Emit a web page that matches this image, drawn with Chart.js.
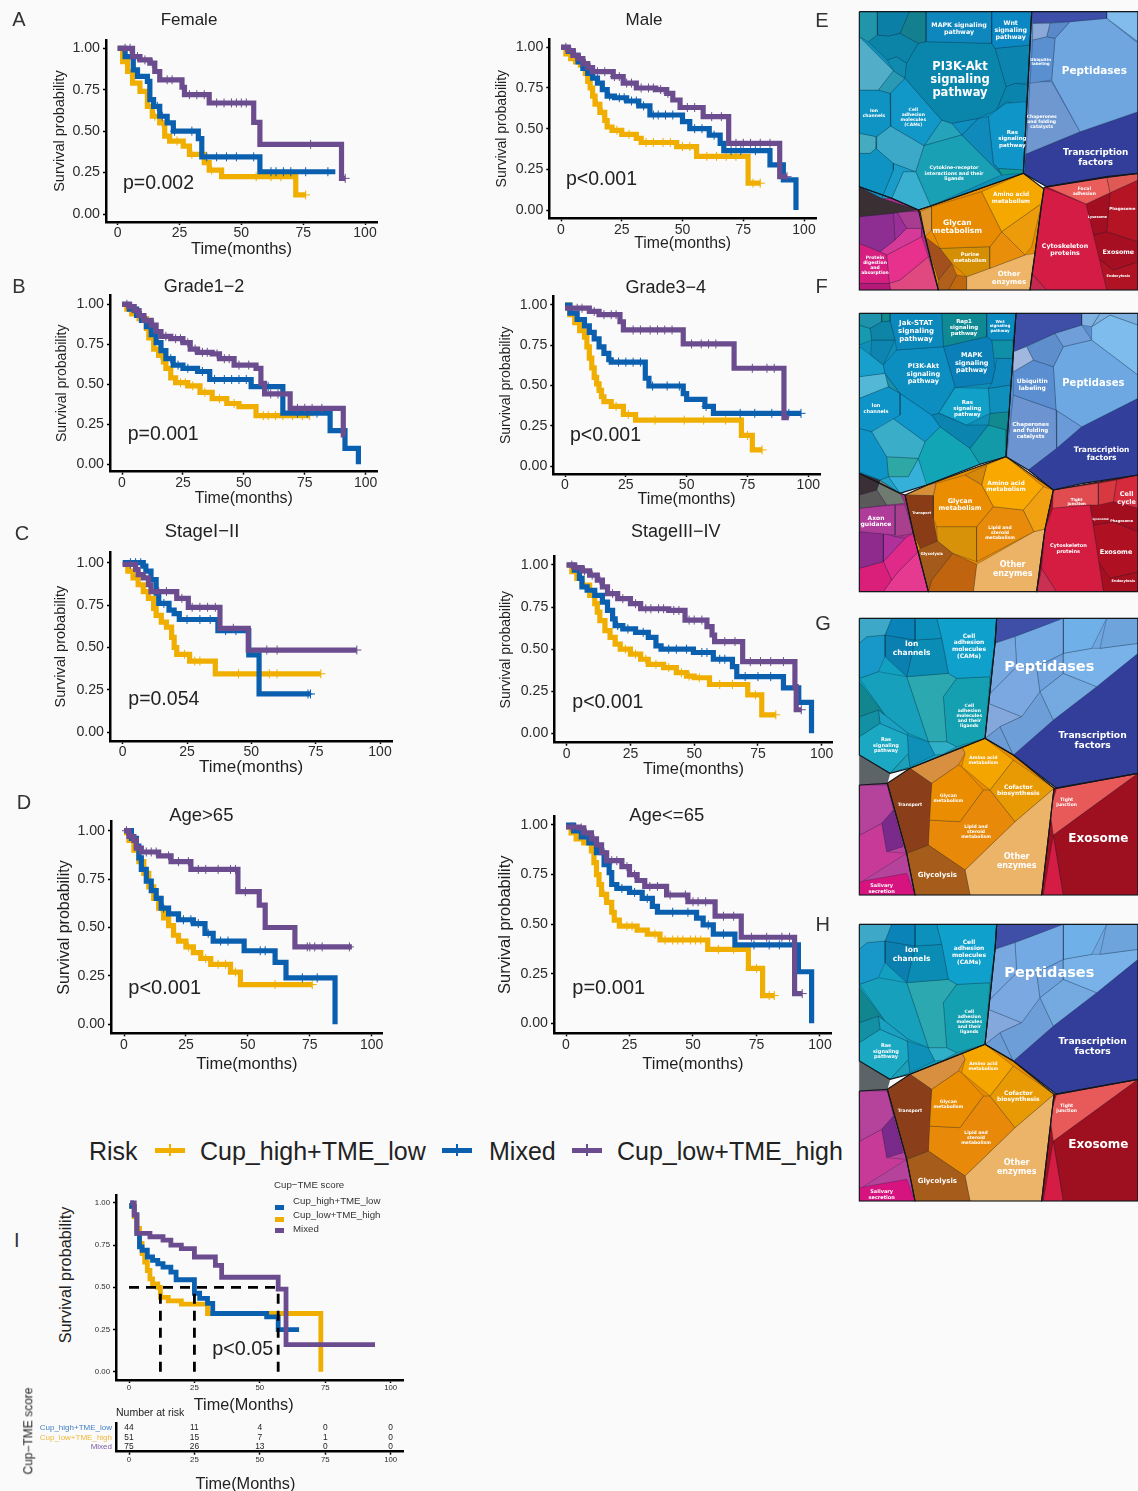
<!DOCTYPE html>
<html>
<head>
<meta charset="utf-8">
<title>Survival curves and proteomaps</title>
<script src="https://cdn.jsdelivr.net/npm/chart.js@4"></script>
<style>
html, body { margin: 0; padding: 0; background: #fafafa; }
#page { position: relative; width: 1138px; height: 1491px; overflow: hidden; background: #fafafa; filter: blur(0.45px); }
#page canvas { position: absolute; }
.txt { position: absolute; white-space: pre; text-align: center; line-height: 1.12; font-family: "Liberation Sans", Arial, sans-serif; color: #222; }
.mapTxt { font-family: "DejaVu Sans", sans-serif; font-weight: bold; color: #fff; }
</style>
</head>
<body>
<div id="page"></div>
<script>
// Survival curves: T = months at each step, S = survival after the step, C = censor marks
const femaleLowT = [0, 6, 9, 13, 15, 17, 23, 26, 27, 37, 55, 57.5, 90.5, 92];
const femaleLowS = [1, .95, .93, .91, .86, .81, .81, .765, .72, .67, .553, .42, .215, .215];
const femaleLowC = [3, 5, 8, 11, 14, 20, 22, 29, 32, 35, 40, 43, 46, 48, 50, 52, 78, 92];
const femaleMixT = [0, 3, 6.3, 8, 12, 13, 14.5, 17, 20, 22.5, 32.6, 34, 57.5, 88];
const femaleMixS = [1, .95, .87, .83, .8, .69, .65, .59, .55, .5, .455, .345, .255, .255];
const femaleMixC = [16, 18, 23, 30, 36, 40, 44, 48, 55, 62, 64, 67, 70, 76, 85];
const femaleHighT = [0, 2, 4, 6, 9, 12, 14, 17, 19, 21, 26.5, 29, 35, 37, 42, 72, 76];
const femaleHighS = [1, .92, .86, .79, .74, .65, .59, .55, .47, .44, .41, .36, .31, .265, .225, .115, .115];
const femaleHighC = [15, 18, 24, 30, 38, 56, 62, 66, 76];

const maleLowT = [0, 3, 5, 7, 9, 11, 13, 16, 21.5, 25.6, 31, 39, 43.5, 46, 49, 58.5, 69, 90, 93];
const maleLowS = [1, .98, .95, .93, .9, .875, .85, .85, .82, .78, .75, .74, .717, .676, .63, .574, .41, .205, .205];
const maleLowC = [2, 4, 6, 8, 10, 12, 15, 18, 22, 24, 27, 29, 33, 36, 38, 41, 44, 52, 55, 62, 66, 72, 75, 78, 82, 86, 93];
const maleMixT = [0, 3, 5, 7, 9, 11, 13, 15, 17, 19, 22, 27, 32, 36.6, 50, 53, 61, 65.5, 67, 86, 91.5, 96.7];
const maleMixS = [1, .975, .95, .91, .87, .84, .81, .78, .74, .7, .69, .67, .64, .584, .543, .5, .46, .41, .365, .277, .185, 0];
const maleMixC = [20, 24, 26, 29, 31, 34, 38, 40, 43, 46, 55, 58, 63, 70, 74, 80];
const maleHighT = [0, 2, 4, 6, 8, 10, 11, 12, 13, 14, 16, 18, 19, 21, 25, 31, 33, 47.6, 55.8, 77, 82];
const maleHighS = [1, .96, .93, .91, .89, .84, .79, .75, .7, .65, .6, .55, .51, .49, .465, .44, .415, .39, .33, .165, .165];
const maleHighC = [15, 17, 23, 28, 35, 38, 42, 45, 50, 53, 60, 64, 68, 72, 79, 82];

const g12LowT = [0, 3, 5, 7, 9, 12, 14, 16, 20, 25, 28, 31, 37, 40, 46, 55, 57, 58.5, 69, 90.8, 91.5];
const g12LowS = [1, .985, .96, .93, .9, .87, .83, .8, .785, .76, .72, .7, .69, .66, .62, .6, .506, .44, .35, .183, .183];
const g12LowC = [2, 4, 6, 8, 10, 13, 18, 22, 24, 27, 30, 33, 35, 39, 42, 44, 48, 52, 61, 64, 72, 75, 78, 82];
const g12MixT = [0, 3, 6, 8, 10, 12, 14, 16, 18, 21, 25, 31, 36, 53, 66, 85.4, 91.5, 97];
const g12MixS = [1, .97, .93, .9, .86, .81, .76, .71, .66, .62, .6, .58, .53, .485, .32, .21, .1, 0];
const g12MixC = [20, 23, 27, 33, 38, 42, 45, 48, 51, 60, 72, 76, 80];
const g12HighT = [0, 2, 4, 7, 10, 11, 13, 15, 17, 18, 20, 22, 27, 32, 37, 43, 48, 55, 77];
const g12HighS = [1, .97, .94, .91, .85, .79, .72, .68, .64, .6, .54, .51, .49, .45, .41, .38, .36, .304, .304];
const g12HighC = [16, 24, 26, 29, 34, 40, 46, 58, 60, 63, 66, 70, 74, 77];

const g34LowT = [0, 10, 14, 22.6, 24, 48.6, 69.5, 90, 92];
const g34LowS = [.98, .96, .94, .896, .845, .758, .607, .3, .3];
const g34LowC = [5, 7, 12, 16, 19, 21, 28, 31, 35, 38, 41, 44, 52, 56, 59, 62, 77, 83, 86];
const g34MixT = [0, 2, 5, 8, 10, 12, 14, 16, 18, 19, 33, 34.5, 48.6, 50, 57.5, 61, 97];
const g34MixS = [1, .95, .91, .87, .83, .79, .74, .7, .66, .645, .545, .497, .45, .414, .37, .327, .327];
const g34MixC = [22, 25, 28, 31, 36, 42, 47, 58, 72, 78, 85, 92, 97];
const g34HighT = [0, 2, 4, 6, 8, 9, 10, 11, 12, 13, 14, 15, 16, 19, 24, 29, 72.5, 77, 81];
const g34HighS = [1, .94, .89, .84, .8, .74, .67, .61, .55, .51, .47, .43, .4, .37, .32, .285, .19, .1, .1];
const g34HighC = [21, 26, 37, 49, 57, 66, 75, 81];

const stage12LowT = [0, 5, 6, 8, 10, 11, 21, 25.5, 37.8, 48.8, 91];
const stage12LowS = [.99, .96, .93, .91, .87, .83, .79, .737, .613, .485, .485];
const stage12LowC = [3, 14, 17, 23, 27, 30, 33, 36, 43, 56, 60, 91];
const stage12MixT = [0, 8, 9, 11, 13, 14, 18, 20, 22, 37, 49, 53, 73];
const stage12MixS = [1, .98, .95, .9, .82, .76, .72, .7, .665, .6, .456, .226, .226];
const stage12MixC = [3, 5, 7, 16, 25, 30, 34, 40, 44, 72, 73];
const stage12HighT = [0, 2, 4, 6, 8, 10, 12, 13, 15, 17, 19, 20, 21, 26, 36, 77];
const stage12HighS = [.99, .95, .91, .87, .83, .79, .73, .69, .65, .62, .56, .5, .46, .42, .345, .345];
const stage12HighC = [24, 28, 30, 45, 57, 60, 77];

const stage34LowT = [0, 3, 6, 9, 12, 14, 16, 20, 25, 29, 40, 46.4, 55, 57, 58, 69, 89.5, 90, 92];
const stage34LowS = [1, .985, .965, .94, .91, .87, .83, .8, .77, .74, .73, .673, .634, .584, .545, .426, .277, .14, .14];
const stage34LowC = [2, 4, 7, 10, 13, 18, 22, 27, 31, 33, 36, 38, 42, 44, 48, 50, 53, 62, 66, 72, 76, 80, 85, 92];
const stage34MixT = [0, 3, 5, 6, 8, 11, 14, 16, 18, 19, 22, 27, 32, 35, 37, 49.7, 57.5, 65, 66.7, 85, 91, 96];
const stage34MixS = [1, .97, .92, .87, .85, .82, .78, .73, .68, .64, .62, .6, .57, .52, .5, .48, .44, .396, .337, .27, .184, 0];
const stage34MixC = [20, 24, 30, 40, 43, 47, 53, 55, 60, 62, 70, 75, 80];
const stage34HighT = [0, 2, 4, 6, 9, 11, 12, 13, 15, 17, 19, 21, 25, 29, 32, 38, 43, 47, 50, 56, 71, 76.5, 82];
const stage34HighS = [1, .96, .92, .88, .82, .77, .72, .67, .61, .57, .53, .5, .47, .44, .41, .39, .36, .34, .33, .29, .228, .11, .11];
const stage34HighC = [23, 27, 31, 35, 40, 45, 48, 52, 60, 65, 74, 82];

const ageOldLowT = [0, 2, 4, 5, 7, 14, 19, 27, 46, 54.6, 57, 69, 92];
const ageOldLowS = [1, .97, .95, .91, .89, .87, .84, .8, .685, .616, .5, .4, .4];
const ageOldLowC = [1, 3, 9, 11, 13, 18, 22, 26, 30, 33, 38, 43, 45, 49, 75, 74, 77, 80, 91];
const ageOldMixT = [0, 3, 5, 6, 7, 9, 11, 13, 15, 18, 22, 28, 32.7, 36, 48.5, 61, 65.4, 85.2];
const ageOldMixS = [1, .96, .92, .86, .8, .74, .69, .65, .6, .57, .54, .52, .47, .43, .38, .32, .24, 0];
const ageOldMixC = [16, 24, 27, 30, 34, 39, 42, 55, 57, 72, 78];
const ageOldHighT = [0, 2, 4, 6, 8, 10, 12, 14, 16, 18, 20, 22, 25, 28, 31, 35, 43, 47, 76];
const ageOldHighS = [.99, .95, .9, .84, .78, .71, .65, .6, .55, .51, .46, .43, .4, .37, .34, .31, .27, .205, .205];
const ageOldHighC = [15, 26, 33, 38, 41, 45, 61, 76];

const ageYoungLowT = [0, 5, 7, 10, 12, 14, 16, 22, 25, 28, 31, 39.6, 48, 58.7, 69, 90, 93];
const ageYoungLowS = [.99, .985, .96, .93, .9, .86, .82, .79, .75, .72, .69, .647, .613, .54, .434, .15, .15];
const ageYoungLowC = [2, 3, 6, 8, 11, 15, 18, 20, 24, 27, 33, 36, 41, 47, 50, 52, 55, 62, 66, 73, 79, 85, 88, 93];
const ageYoungMixT = [0, 3, 6, 9, 12, 15, 17, 18, 20, 25, 30, 34, 36, 51.4, 54, 58, 66.5, 91.5, 96.7];
const ageYoungMixS = [1, .97, .94, .91, .86, .8, .76, .7, .68, .66, .63, .59, .56, .53, .496, .45, .395, .26, 0];
const ageYoungMixC = [22, 27, 32, 42, 48, 56, 62, 74, 80, 84];
const ageYoungHighT = [0, 2, 4, 7, 10, 11, 12, 13, 14, 16, 18, 19, 21, 28, 32, 37, 55.8, 71.8, 77.4, 82];
const ageYoungHighS = [.99, .96, .93, .91, .87, .81, .75, .7, .65, .61, .56, .52, .49, .47, .45, .42, .373, .277, .14, .14];
const ageYoungHighC = [15, 24, 26, 35, 39, 42, 44, 46, 49, 51, 53, 60, 66, 75, 80, 82];

// Panel I (its own colour naming, see its legend)
const allHighT = [.5, 1, 2, 3, 4, 5, 7, 9, 11, 13, 16, 18, 25, 27, 30, 32, 52.6, 57, 65];
const allHighS = [1, .98, .93, .82, .74, .72, .68, .66, .64, .62, .59, .545, .465, .435, .405, .345, .325, .25, .25];
const allLowT = [0, 2, 3, 4, 5, 6, 7, 8, 9, 11, 12, 15, 20, 30, 73.3];
const allLowS = [.98, .92, .85, .76, .7, .65, .6, .55, .52, .5, .44, .42, .4, .345, 0];
const allMixedT = [.5, 2, 3, 8, 13, 16, 20, 25, 33, 35.4, 57, 60, 94];
const allMixedS = [1, .93, .82, .8, .78, .75, .73, .68, .63, .56, .49, .16, .16];
const medianTimes = [12, 25, 57];
const medianLevel = .5;
const riskTimes = [0, 25, 50, 75, 100];
const riskHigh = [44, 11, 4, 0, 0];
const riskLow = [51, 15, 7, 1, 0];
const riskMixed = [75, 26, 13, 0, 0];
const riskNames = ['Cup_high+TME_low', 'Cup_low+TME_high', 'Mixed'];

const xTicks = 25;
const yTicks = .25;

// Colours
const yellow = '#efae00';
const blue = '#0a5fae';
const purple = '#6b4d8f';
const ink = '#1f1f1f';

// Proteomap cells, vertices as x,y pairs at 3x
const mapECells = [
  [28,35,82,35,82,105,55,125,28,110], [82,35,178,35,150,100,115,108,82,105], [178,35,228,35,228,125,205,130,150,100],
  [228,35,425,35,425,130,228,125], [425,35,545,35,540,135,435,145,425,130],
  [205,130,228,125,425,130,435,145,468,260,440,330,385,355,305,370,275,360,165,235,170,190],
  [55,125,82,105,115,108,150,100,205,130,170,190,140,170,112,180], [112,180,140,170,170,190,165,235,130,212],
  [28,110,130,212,85,270,28,270], [130,212,165,235,120,280,85,270],
  [28,270,85,270,120,280,122,378,80,410,28,400], [120,280,165,235,275,360,222,437,122,378],
  [28,400,80,410,78,445,60,460,28,460], [80,410,122,378,222,437,197,515,130,490,78,445],
  [28,460,60,460,78,445,130,490,130,510,95,595,28,560], [130,490,197,515,160,515,125,595,95,595,130,510],
  [160,515,197,515,242,618,205,630,125,595], [222,437,335,405,455,525,242,618,197,515],
  [275,360,305,370,335,405,222,437], [305,370,385,355,335,405], [335,405,385,355,415,350,430,490,455,525],
  [415,350,440,330,468,310,528,305,525,510,445,505,430,490], [435,145,540,135,535,250,495,250,468,260],
  [468,260,495,250,535,255,530,320,470,305,440,330], [445,505,525,510,520,520,455,525],
  [545,35,770,35,770,55,660,65,548,70], [548,70,600,70,590,110,548,120], [600,70,660,65,615,115,590,110],
  [548,120,590,110,615,115,605,240,540,250], [660,65,770,55,864,130,864,335,690,395,605,240,615,115],
  [770,35,864,35,864,125,770,55], [540,245,605,245,690,395,528,462],
  [864,335,864,520,770,530,590,560,520,520,528,462,690,395],
  [520,520,582,567,575,610,455,695,395,575], [245,620,395,575,455,695,420,740,270,745,245,690],
  [210,635,245,620,245,690,225,710], [575,610,545,740,525,765,455,695], [455,695,525,765,420,805,420,740],
  [270,745,420,740,420,805,350,830,305,790], [350,830,525,765,555,760,545,820,540,870,350,870],
  [225,710,270,745,305,790,265,840], [265,840,305,790,320,825,295,870,265,870], [295,870,320,825,350,830,350,870,295,870],
  [28,560,95,595,205,630,130,640,28,650],
  [28,650,130,640,135,720,90,755,28,730], [130,640,140,635,170,685,135,720], [140,635,210,635,215,685,170,685],
  [28,730,90,755,110,765,118,850,28,850], [28,850,118,850,122,870,28,870], [135,720,170,685,215,685,215,710,110,765,90,755],
  [110,765,215,710,235,770,150,840,118,850], [150,840,235,770,265,870,122,870,118,850],
  [582,562,708,612,770,870,590,870,545,820,555,760,575,610], [545,820,590,870,540,870],
  [590,560,770,532,780,578,708,612], [770,532,864,520,864,540,780,578],
  [708,612,780,578,770,695,730,705], [780,578,864,540,864,725,770,695], [730,705,770,695,864,725,864,785,790,810,745,775],
  [790,810,864,785,864,870,770,870,745,775], [730,705,745,775,770,870]
];
const mapEColors = [
  '#2196ab', '#0b7fa6', '#14808f', '#0d87bd', '#0b88c3', '#0a86ad', '#0c84a8', '#118ab0',
  '#52adc9', '#2a9ab4', '#0f93c2', '#1298c8', '#45acbf', '#3ca9c9', '#0f93c2', '#1a9cc8',
  '#3ab0d0', '#1aa0b5', '#25a3bb', '#0f8fc0', '#1089bb', '#0f95c8', '#0b85b0', '#0b84ad', '#129a9a',
  '#3d4fa8', '#8ba9d8', '#5b88c8', '#5a8fd0', '#6fa6e0', '#82bcec', '#6f97d0', '#323e9a',
  '#f5a800', '#e88b00', '#d9963c', '#ec9c0a', '#e88e0a', '#d48f05', '#eeb468', '#a34f1e', '#b0601a', '#c0680f',
  '#3a2f33', '#8e2e92', '#9b2f98', '#a83c90', '#d61f7f', '#b51a78', '#d63a98', '#e8318c', '#e04880',
  '#d51c44', '#c42a50', '#ea5d5a', '#e05a55', '#a30f20', '#b51424', '#a60f22', '#b01324', '#a30f20'
];
const mapEGroups = [
  [28,35,545,35,520,520,242,618,205,630,125,595,28,560],
  [545,35,864,35,864,520,770,530,590,560,520,520],
  [205,630,242,618,520,520,582,567,575,610,555,760,540,870,265,870,225,710,210,635],
  [28,560,125,595,205,630,265,870,28,870],
  [582,562,770,532,864,520,864,870,540,870,555,760,575,610]
];
const mapEGroupColors = ['#0f8fb8', '#5a8ed0', '#e88b00', '#b0308c', '#a80f22'];

const mapFCells = [
  [28,25,95,25,95,50,60,70,28,60], [95,25,120,25,120,48,95,50], [28,60,60,70,65,105,28,120], [60,70,95,50,120,48,135,105,65,105],
  [65,105,135,105,100,180,62,150], [120,25,275,25,280,125,140,135,135,105,120,48], [275,25,410,25,410,95,280,125],
  [410,25,498,25,490,105,425,105,410,95], [140,135,280,125,315,245,265,325,245,330,150,265,105,205,100,180],
  [280,125,410,95,425,105,435,190,425,235,315,248], [425,105,490,105,490,160,440,160,430,160], [440,160,490,160,482,240,415,250,425,235,435,190],
  [28,125,62,150,100,180,105,205,28,215], [28,215,105,205,115,245,28,280], [105,205,150,265,115,245],
  [28,280,115,245,150,265,150,330,65,380,28,370], [150,265,245,330,270,365,225,410,122,335,150,330],
  [315,248,415,250,420,325,350,360,270,325,265,325], [415,250,482,240,478,320,420,325], [420,325,478,320,470,375,415,360],
  [245,330,265,325,350,360,415,360,360,430,270,365], [415,360,470,375,468,455,390,478,360,430],
  [65,380,122,335,225,410,205,460,110,455], [205,460,225,410,270,365,360,430,390,478,230,540],
  [28,370,65,380,110,455,115,515,90,525,28,500], [110,455,205,460,175,515,115,515], [90,525,115,515,150,565],
  [115,515,175,515,205,460,232,540,150,565],
  [28,505,90,525,80,555,28,570], [28,570,80,555,110,600,28,610], [80,555,90,525,150,565,165,595,110,600],
  [28,610,135,600,135,690,30,680], [135,600,165,600,190,685,135,695], [28,680,100,685,100,770,28,790], [100,685,135,695,165,700,100,770],
  [28,790,100,770,125,825,100,860,28,860], [100,770,165,700,190,685,205,740,145,800,125,825], [145,800,205,740,235,860,100,860,125,825],
  [165,570,250,572,250,640,262,708,210,730,190,685], [165,570,232,540,258,535,250,572],
  [210,730,262,708,308,745,245,825,235,860,205,740], [245,825,308,745,380,778,370,860,235,860],
  [250,572,258,535,345,510,395,540,430,605,380,665,260,665,250,640], [345,510,410,480,395,540],
  [410,480,468,455,580,545,520,615,430,605,395,540], [520,615,580,545,610,555,585,672,552,680],
  [430,605,520,615,552,680,380,770,380,665], [260,665,380,665,380,770,308,745,262,708],
  [380,778,552,680,585,672,560,860,370,860],
  [498,25,695,25,695,60,615,85,490,140], [695,25,750,25,725,65,695,60], [750,25,864,25,864,60,780,30,725,65],
  [725,65,780,30,864,60,864,210,725,105], [615,85,695,60,725,105,640,125], [490,140,530,125,550,165,490,200],
  [530,125,615,85,640,125,610,185,550,165], [490,200,550,165,610,185,618,315,490,270],
  [610,185,640,125,725,105,864,210,864,280,695,365,618,315], [490,270,618,315,620,430,535,495,470,455],
  [618,315,695,365,620,430], [695,365,864,280,864,510,700,535,610,555,535,495],
  [608,610,720,600,760,860,620,860,575,790,585,672], [610,555,745,535,745,600,720,600,608,610],
  [745,535,800,525,790,590,745,600], [800,525,864,510,864,610,790,590],
  [720,600,790,590,864,610,864,680,790,650,730,660], [730,660,790,650,864,680,864,800,780,820,745,770], [745,770,780,820,864,800,864,860,760,860],
  [575,790,620,860,560,860]
];
const mapFColors = [
  '#1f93ab', '#0f8c8c', '#169ab0', '#0e84a6', '#0d85b0', '#0b88bc', '#0f8a95', '#0b8ac0', '#0c8fc0', '#0b80b8', '#0f8fa8', '#0e88ba',
  '#18a0cc', '#52b8d6', '#1a90a8', '#0f94c8', '#0f97cc', '#10a0c8', '#0f8fbc', '#11898f', '#0b85b0', '#129aa8', '#3aaec8', '#12a5b5',
  '#0f94c8', '#2ea8a5', '#1ea3c8', '#35b0d8', '#3a2f35', '#5a5a5a', '#6f7a70',
  '#b03c9a', '#a8408e', '#8f2b8c', '#b0309c', '#d91f7a', '#e02a8a', '#e53a90', '#8a3c17', '#d89038', '#a35a1a', '#c0640f',
  '#ea8d00', '#d6880a', '#f8a800', '#f0a010', '#e88b0a', '#d8920a', '#ecb366',
  '#3f4ea6', '#7fb2e0', '#7db0de', '#7dbcec', '#6f9ed8', '#a0b8e0', '#5f8ecc', '#5a8ed0', '#6ea8e2', '#6c94d0', '#6a9ad8', '#32409c',
  '#d51d42', '#e04c50', '#d83840', '#d42a3c', '#a30e1e', '#b01122', '#a60f1f', '#c93052'
];
const mapFGroups = [
  [28,25,498,25,468,455,390,478,230,540,150,565,28,505],
  [498,25,864,25,864,510,700,535,610,555,535,495,468,455],
  [165,570,232,540,468,455,610,555,585,672,560,860,235,860,190,685],
  [28,505,150,565,165,570,190,685,235,860,28,860],
  [610,555,864,510,864,860,560,860,585,672]
];
const mapFGroupColors = ['#0f8fb8', '#5a8ed0', '#e88b00', '#a8308c', '#a80f22'];

const mapGCells = [
  [28,25,125,25,105,75,50,80,28,100], [28,100,50,80,105,75,105,140,85,185,28,205],
  [125,25,195,25,195,90,105,75], [195,25,260,25,275,85,195,90], [105,75,195,90,170,200,105,140], [195,90,275,85,295,190,170,200],
  [260,25,440,25,435,100,420,200,320,205,295,190,275,85],
  [28,205,85,185,170,200,235,395,175,370,105,315], [170,200,295,190,320,205,280,260,290,395,235,395],
  [320,205,420,200,405,385,320,410,290,395,280,260], [235,395,290,395,320,410,280,432,255,435],
  [28,215,105,315,85,300,28,320], [28,320,85,300,90,340,28,380], [85,300,105,315,175,370,172,375,90,340],
  [28,380,90,340,172,375,175,430,120,490,28,435], [172,375,235,395,255,435,180,470,175,430], [120,490,175,430,180,470],
  [28,435,120,490,112,520,28,525], [112,520,180,475,245,520,235,705,170,730],
  [170,730,235,705,345,780,360,855,195,855],
  [180,475,335,410,345,430,325,465,245,520], [335,410,405,385,490,450,420,540,335,470,345,430],
  [490,450,612,535,495,635,420,540], [245,520,325,465,335,470,400,540,330,635,235,630],
  [235,630,330,635,400,540,420,540,495,635,345,780,235,705],
  [345,780,495,635,612,535,575,855,360,855],
  [435,100,495,80,500,170,420,250], [495,80,640,25,640,130,560,170,500,170], [640,25,770,25,725,115,640,130],
  [770,25,864,25,864,100,750,115], [725,115,750,115,864,100,864,130,740,230,640,190,640,130], [560,170,640,130,640,190,570,245],
  [640,190,740,230,610,330,570,245], [420,250,500,170,560,170,570,245,515,320,415,280], [570,245,610,330,490,435,450,350,515,320],
  [415,280,515,320,450,350,405,385], [405,385,450,350,490,435],
  [440,25,650,25,435,100], [864,130,864,490,620,535,490,435,610,330],
  [620,535,864,490,610,675,600,600], [610,675,864,490,864,855,640,855], [610,675,640,855,580,855],
  [28,525,112,525,130,600,95,640,30,675], [28,675,95,640,110,725,170,730,35,815,28,815], [95,640,130,600,160,710,110,725],
  [28,815,170,790,195,855,28,855]
];
const mapGColors = [
  '#3ea8c8', '#1898c8', '#0a84b8', '#0c90bc', '#0b80b0', '#0a8cb4', '#10a0cc', '#16a0bc', '#2ba8b0', '#14a0b0', '#2fb0c8',
  '#12868f', '#1490a5', '#1aa0c0', '#1ba8c2', '#0f90b8', '#1ba0b8', '#5d6468', '#8a3f1a', '#a65c1a',
  '#d98f40', '#f5a500', '#e89a05', '#ea8d00', '#e8890a', '#ecb468',
  '#78a8e0', '#73aae4', '#70b0e8', '#6ea4dc', '#78b2e8', '#6fa2dc', '#74aae0', '#7ba8e0', '#6e9ed8', '#85a8dc', '#6c9cd6',
  '#3f4ea6', '#323e9a', '#e85a5a', '#9e0f1f', '#d51c44', '#b5439b', '#c73a98', '#7a2a8a', '#d6137e'
];
const mapGGroups = [
  [28,25,440,25,435,100,405,385,180,475,120,490,28,435],
  [440,25,864,25,864,490,620,535,490,435,405,385,435,100],
  [180,475,405,385,490,435,612,535,575,855,195,855,170,730,112,520],
  [28,525,112,520,170,730,195,855,28,855],
  [612,535,864,490,864,855,575,855]
];
const mapGGroupColors = ['#12a0c0', '#6fa5e0', '#e88b00', '#b5439b', '#9e0f1f'];

// Layout of the survival panels, all in page pixels
const panelBoxes = [
  { title: 'Female', letter: 'A', p: 'p=0.002', x0: 117.7, x100: 365, y1: 48.3, y0: 214, axL: 106, axB: 222, right: 377, top: 40, yCx: 60, xCy: 248.3, ySize: 14.5, xSize: 16.5, tSize: 17, tX: 189, tY: 20, pX: 123, pY: 182.7, pSize: 19.5, lX: 19, lY: 19,
    low: [femaleLowT, femaleLowS, femaleLowC], mix: [femaleMixT, femaleMixS, femaleMixC], high: [femaleHighT, femaleHighS, femaleHighC] },
  { title: 'Male', letter: 'E', p: 'p<0.001', x0: 561, x100: 804, y1: 47.3, y0: 210, axL: 549.3, axB: 218.3, right: 816, top: 39, yCx: 503.3, xCy: 243.3, ySize: 14, xSize: 15.8, tSize: 17, tX: 644, tY: 20, pX: 566, pY: 179, pSize: 19.5, lX: 822, lY: 20,
    low: [maleLowT, maleLowS, maleLowC], mix: [maleMixT, maleMixS, maleMixC], high: [maleHighT, maleHighS, maleHighC] },
  { title: 'Grade1\u22122', letter: 'B', p: 'p=0.001', x0: 122, x100: 365.7, y1: 304.3, y0: 464.3, axL: 110, axB: 471.7, right: 377.7, top: 295, yCx: 63.3, xCy: 497.7, ySize: 14, xSize: 16, tSize: 18, tX: 204, tY: 286, pX: 127.7, pY: 434, pSize: 19.5, lX: 19, lY: 286,
    low: [g12LowT, g12LowS, g12LowC], mix: [g12MixT, g12MixS, g12MixC], high: [g12HighT, g12HighS, g12HighC] },
  { title: 'Grade3\u22124', letter: 'F', p: 'p<0.001', x0: 565, x100: 808.3, y1: 305, y0: 466, axL: 553.3, axB: 474, right: 820, top: 296.7, yCx: 506.7, xCy: 499, ySize: 14, xSize: 16, tSize: 18, tX: 665.7, tY: 287, pX: 570, pY: 435, pSize: 19.5, lX: 821.7, lY: 286,
    low: [g34LowT, g34LowS, g34LowC], mix: [g34MixT, g34MixS, g34MixC], high: [g34HighT, g34HighS, g34HighC] },
  { title: 'StageI\u2212II', letter: 'C', p: 'p=0.054', x0: 122.7, x100: 380, y1: 562.7, y0: 732.3, axL: 110, axB: 741, right: 392.3, top: 552.3, yCx: 60.7, xCy: 767.3, ySize: 14.5, xSize: 17, tSize: 18.5, tX: 202, tY: 530.7, pX: 128.3, pY: 699.3, pSize: 19.5, lX: 22, lY: 532.7,
    low: [stage12LowT, stage12LowS, stage12LowC], mix: [stage12MixT, stage12MixS, stage12MixC], high: [stage12HighT, stage12HighS, stage12HighC] },
  { title: 'StageIII\u2212IV', letter: 'G', p: 'p<0.001', x0: 566.7, x100: 821.7, y1: 565, y0: 733.3, axL: 554.3, axB: 742.7, right: 832.7, top: 556.7, yCx: 506.7, xCy: 768.3, ySize: 14, xSize: 16.5, tSize: 18, tX: 675.7, tY: 530.7, pX: 572.3, pY: 701.7, pSize: 19.5, lX: 823, lY: 622.7,
    low: [stage34LowT, stage34LowS, stage34LowC], mix: [stage34MixT, stage34MixS, stage34MixC], high: [stage34HighT, stage34HighS, stage34HighC] },
  { title: 'Age>65', letter: 'D', p: 'p<0.001', x0: 124, x100: 371.7, y1: 830.7, y0: 1024.3, axL: 111, axB: 1033.3, right: 382.7, top: 821.7, yCx: 65, xCy: 1064, ySize: 16, xSize: 16.5, tSize: 18.5, tX: 201.3, tY: 815, pX: 128.3, pY: 986.7, pSize: 20, lX: 24, lY: 801.7,
    low: [ageOldLowT, ageOldLowS, ageOldLowC], mix: [ageOldMixT, ageOldMixS, ageOldMixC], high: [ageOldHighT, ageOldHighS, ageOldHighC] },
  { title: 'Age<=65', letter: 'H', p: 'p=0.001', x0: 566, x100: 820, y1: 825, y0: 1023.3, axL: 554, axB: 1033.3, right: 831.7, top: 816, yCx: 506, xCy: 1064, ySize: 16.5, xSize: 16.5, tSize: 18.5, tX: 666.7, tY: 815, pX: 572.3, pY: 986.7, pSize: 20, lX: 822.7, lY: 924.3,
    low: [ageYoungLowT, ageYoungLowS, ageYoungLowC], mix: [ageYoungMixT, ageYoungMixS, ageYoungMixC], high: [ageYoungHighT, ageYoungHighS, ageYoungHighC] }
];

// Map labels: text, x and y at 3x, font size
const mapELabels = [
  ['PI3K-Akt\nsignaling\npathway', 330, 237, 11.5], ['MAPK signaling\npathway', 327, 85, 6.3], ['Wnt\nsignaling\npathway', 482, 90, 6.3],
  ['Peptidases', 733, 212, 10.5], ['Transcription\nfactors', 737, 474, 8.8], ['Glycan\nmetabolism', 322, 680, 7.5],
  ['Cytoskeleton\nproteins', 645, 747, 6.3], ['Exosome', 805, 757, 6.3], ['Other\nenzymes', 477, 838, 7],
  ['Amino acid\nmetabolism', 483, 592, 5.8], ['Purine\nmetabolism', 360, 775, 5], ['Ras\nsignaling\npathway', 487, 415, 5.5],
  ['Cell\nadhesion\nmolecules\n(CAMs)', 190, 350, 4.5], ['Ion\nchannels', 72, 338, 4.5], ['Cytokine-receptor\ninteractions and their\nligands', 312, 520, 4.8],
  ['Chaperones\nand folding\ncatalysts', 575, 367, 4.5], ['Ubiquitin\nlabeling', 572, 185, 4], ['Focal\nadhesion', 703, 573, 4.5],
  ['Phagosome', 817, 628, 4], ['Lysosome', 742, 655, 3.5], ['Endocytosis', 805, 832, 3.5], ['Protein\ndigestion\nand\nabsorption', 75, 795, 4.5]
];
const mapFLabels = [
  ['Jak-STAT\nsignaling\npathway', 198, 82, 7], ['Rap1\nsignaling\npathway', 342, 65, 5.5], ['Wnt\nsignaling\npathway', 450, 65, 4],
  ['PI3K-Akt\nsignaling\npathway', 220, 208, 6.5], ['MAPK\nsignaling\npathway', 365, 175, 6.5], ['Ras\nsignaling\npathway', 352, 308, 5.5],
  ['Ion\nchannels', 78, 312, 5], ['Peptidases', 730, 233, 10], ['Ubiquitin\nlabeling', 547, 240, 6],
  ['Chaperones\nand folding\ncatalysts', 542, 375, 5.5], ['Transcription\nfactors', 755, 447, 7.5], ['Glycan\nmetabolism', 330, 600, 6.5],
  ['Amino acid\nmetabolism', 468, 545, 6], ['Lipid and\nsteroid\nmetabolism', 450, 683, 4.5], ['Other\nenzymes', 488, 795, 8],
  ['Axon\nguidance', 78, 650, 6], ['Transport', 215, 627, 3.5], ['Glycolysis', 245, 748, 4], ['Cytoskeleton\nproteins', 655, 733, 5],
  ['Exosome', 798, 745, 6.5], ['Tight\njunction', 680, 590, 4], ['Cell\ncycle', 830, 580, 6.5], ['Endocytosis', 820, 830, 3.5],
  ['Phagosome', 815, 652, 3.5], ['Lysosome', 752, 645, 3]
];
const mapGLabels = [
  ['Ion\nchannels', 185, 115, 7.5], ['Cell\nadhesion\nmolecules\n(CAMs)', 357, 107, 6], ['Peptidases', 598, 168, 14.5],
  ['Transcription\nfactors', 728, 390, 9.2], ['Exosome', 745, 687, 12], ['Other\nenzymes', 500, 755, 8], ['Glycolysis', 262, 798, 7],
  ['Cofactor\nbiosynthesis', 505, 542, 6], ['Amino acid\nmetabolism', 400, 450, 4.5], ['Glycan\nmetabolism', 295, 565, 4.5],
  ['Lipid and\nsteroid\nmetabolism', 378, 665, 4.5], ['Transport', 180, 585, 4.5], ['Ras\nsignaling\npathway', 108, 405, 5],
  ['Cell\nadhesion\nmolecules\nand their\nligands', 358, 317, 4.5], ['Tight\njunction', 650, 575, 4.5], ['Salivary\nsecretion', 95, 838, 5]
];

const page = document.getElementById('page');
Chart.defaults.font.family = '"Liberation Sans", Arial, sans-serif';

function addText(text, cx, cy, size, extra) {
  const el = document.createElement('div');
  el.className = 'txt';
  el.textContent = text;
  el.style.fontSize = size + 'px';
  el.style.left = cx + 'px';
  el.style.top = cy + 'px';
  el.style.transform = 'translate(-50%,-50%)';
  Object.assign(el.style, extra || {});
  page.appendChild(el);
  return el;
}

function addTextLeft(text, x, cy, size, extra) {
  const el = addText(text, x, cy, size, extra);
  el.style.transform = 'translateY(-50%)';
  return el;
}

function addCanvas(left, top, width, height) {
  const c = document.createElement('canvas');
  c.width = width;
  c.height = height;
  c.style.left = left + 'px';
  c.style.top = top + 'px';
  c.style.width = width + 'px';
  c.style.height = height + 'px';
  page.appendChild(c);
  return c.getContext('2d');
}

// value of a step curve at time x
function stepAt(ts, ss, x) {
  let v = ss[0];
  for (let i = 0; i < ts.length; i++) {
    if (ts[i] <= x) v = ss[i];
  }
  return v;
}

function curveSet(t, s, color, width) {
  return {
    data: t.map((v, i) => ({ x: v, y: s[i] })),
    showLine: true, stepped: true, borderColor: color, backgroundColor: color,
    borderWidth: width, pointRadius: 0, fill: false, borderJoinStyle: 'miter'
  };
}

function censorSet(t, s, c, color) {
  return {
    data: c.map(v => ({ x: v, y: stepAt(t, s, v) })),
    showLine: false, pointStyle: 'cross', pointRadius: 4.5, pointBorderWidth: 1,
    pointBorderColor: color, pointBackgroundColor: color
  };
}

// axes that land on fixed page pixels, the box sizes are forced in afterFit
function xAxis(b, size, title, titleSize, bottomBox) {
  return {
    type: 'linear',
    min: (b.axL - b.x0) / (b.x100 - b.x0) * 100,
    max: (b.right - b.x0) / (b.x100 - b.x0) * 100,
    afterFit: s => { s.height = bottomBox; },
    border: { display: true, color: '#000', width: 2.5 },
    grid: { drawOnChartArea: false, tickColor: '#000', tickWidth: 1.5, tickLength: 3 },
    ticks: { stepSize: xTicks, includeBounds: false, maxRotation: 0, autoSkip: false, padding: 0, color: '#2b2b2b', font: { size: size } },
    title: title ? { display: true, text: title, color: ink, padding: 0, font: { size: titleSize } } : { display: false }
  };
}

function yAxis(b, leftBox, size, title, titleSize) {
  return {
    type: 'linear',
    min: (b.y0 - b.axB) / (b.y0 - b.y1),
    max: (b.y0 - b.top) / (b.y0 - b.y1),
    afterFit: s => { s.width = leftBox; },
    border: { display: true, color: '#000', width: 2.5 },
    grid: { drawOnChartArea: false, tickColor: '#000', tickWidth: 1.5, tickLength: 3 },
    ticks: { stepSize: yTicks, includeBounds: false, autoSkip: false, padding: 3, color: '#2b2b2b', font: { size: size }, callback: v => v.toFixed(2) },
    title: title ? { display: true, text: title, color: ink, padding: 0, font: { size: titleSize } } : { display: false }
  };
}

function baseOptions(scales, top, right) {
  return {
    responsive: false, animation: false, devicePixelRatio: 1, events: [],
    layout: { padding: { top: top, right: right, left: 0, bottom: 0 } },
    plugins: { legend: { display: false }, title: { display: false }, tooltip: { enabled: false } },
    scales: scales
  };
}

// one survival panel
function drawPanel(b) {
  const left = Math.floor(b.yCx - b.ySize * 0.6);
  const slack = 14;
  const top = Math.floor(b.top) - slack;
  const padTop = b.top - top;
  const bottom = Math.ceil(b.xCy + b.xSize * 0.6);
  const width = Math.ceil(b.right) + slack - left;
  const padRight = left + width - b.right;
  const ctx = addCanvas(left, top, width, bottom - top);
  new Chart(ctx, {
    type: 'scatter',
    data: {
      datasets: [
        curveSet(b.low[0], b.low[1], purple, 5.2), censorSet(b.low[0], b.low[1], b.low[2], purple),
        curveSet(b.mix[0], b.mix[1], blue, 5.2), censorSet(b.mix[0], b.mix[1], b.mix[2], blue),
        curveSet(b.high[0], b.high[1], yellow, 5.2), censorSet(b.high[0], b.high[1], b.high[2], yellow)
      ]
    },
    options: baseOptions({
      x: xAxis(b, 14, 'Time(months)', b.xSize, bottom - b.axB),
      y: yAxis(b, b.axL - left, 14.2, 'Survival probability', b.ySize)
    }, padTop, padRight)
  });
  addText(b.title, b.tX, b.tY, b.tSize);
  addText(b.letter, b.lX, b.lY, 20, { color: '#333' });
  addTextLeft(b.p, b.pX, b.pY, b.pSize);
}

panelBoxes.forEach(drawPanel);

// shared legend under the panels
const legendNames = ['Cup_high+TME_low', 'Mixed', 'Cup_low+TME_high'];
const legendColors = [yellow, blue, purple];
const legendKeyX = [155, 442, 572];
const legendTextX = [200, 489, 617];
addTextLeft('Risk', 89, 1151, 25);
legendNames.forEach((name, i) => {
  addTextLeft(name, legendTextX[i], 1151, 25);
  const bar = document.createElement('div');
  bar.style.cssText = `position:absolute;left:${legendKeyX[i]}px;top:1148px;width:30px;height:4.5px;background:${legendColors[i]}`;
  page.appendChild(bar);
  const tick = document.createElement('div');
  tick.style.cssText = `position:absolute;left:${legendKeyX[i] + 14}px;top:1144px;width:2px;height:12px;background:${legendColors[i]}`;
  page.appendChild(tick);
});

// panel I with dashed medians
const panelI = { x0: 129, x100: 390.7, y1: 1203, y0: 1371.7, axL: 116, axB: 1380, right: 403.3, top: 1195 };
const medianSets = medianTimes.map(t => ({
  data: [{ x: t, y: 0 }, { x: t, y: medianLevel }],
  showLine: true, borderColor: '#000', borderWidth: 2.8, borderDash: [10, 7], pointRadius: 0
}));
medianSets.push({
  data: [{ x: 0, y: medianLevel }, { x: medianTimes[2], y: medianLevel }],
  showLine: true, borderColor: '#000', borderWidth: 2.8, borderDash: [10, 7], pointRadius: 0
});
new Chart(addCanvas(76, 1181, 341, 217), {
  type: 'scatter',
  data: {
    datasets: medianSets.concat([
      curveSet(allMixedT, allMixedS, purple, 4.8),
      curveSet(allHighT, allHighS, blue, 4.8),
      curveSet(allLowT, allLowS, yellow, 4.8)
    ])
  },
  options: baseOptions({
    x: xAxis(panelI, 7.8, null, 0, 1398 - panelI.axB),
    y: yAxis(panelI, panelI.axL - 76, 7.8, null, 0)
  }, panelI.top - 1181, 417 - panelI.right)
});
addText('I', 16.7, 1240, 20, { color: '#333' });
addText('Survival probability', 65, 1275, 16.3, { transform: 'translate(-50%,-50%) rotate(-90deg)' });
addText('Time(Months)', 243.7, 1404, 16.3);
addTextLeft('p<0.05', 212.3, 1348.3, 19.8);

// its legend
const scoreNames = ['Cup_high+TME_low', 'Cup_low+TME_high', 'Mixed'];
const scoreColors = [blue, yellow, purple];
const scoreTextY = [1201, 1215, 1229];
const scoreKeyY = [1207, 1219, 1230];
addTextLeft('Cup\u2212TME score', 274, 1185, 9.7, { color: '#333' });
scoreNames.forEach((name, i) => {
  addTextLeft(name, 293, scoreTextY[i], 9.7, { color: '#333' });
  const sw = document.createElement('div');
  sw.style.cssText = `position:absolute;left:275px;top:${scoreKeyY[i] - 2.5}px;width:9px;height:5px;background:${scoreColors[i]}`;
  page.appendChild(sw);
});

// number at risk table
const riskBox = { x0: 129, x100: 390.7, y1: 0, y0: 1, axL: 116, axB: 1451.7, right: 403.3, top: 1423 };
const riskRows = [riskHigh, riskLow, riskMixed];
const riskLabelColors = ['#3f7fc4', '#efb83a', '#7a5ea0'];
const riskYAxis = {
  type: 'category', labels: riskNames, offset: true,
  afterFit: s => { s.width = riskBox.axL - 30; },
  border: { display: true, color: '#000', width: 2.5 },
  grid: { display: false, drawTicks: false, tickLength: 0 },
  ticks: { autoSkip: false, padding: 4, font: { size: 8 }, color: c => riskLabelColors[c.index] }
};
const riskNumbers = {
  id: 'riskNumbers',
  afterDatasetsDraw(chart) {
    const c = chart.ctx;
    c.save();
    c.font = '8.4px "Liberation Sans"';
    c.fillStyle = '#222';
    c.textAlign = 'center';
    c.textBaseline = 'middle';
    chart.data.datasets.forEach((set, i) => {
      chart.getDatasetMeta(i).data.forEach((pt, j) => {
        c.fillText(String(set.data[j].n), pt.x, pt.y);
      });
    });
    c.restore();
  }
};
new Chart(addCanvas(30, 1411, 387, 56), {
  type: 'scatter',
  data: {
    datasets: riskRows.map((row, i) => ({
      data: row.map((n, j) => ({ x: riskTimes[j], y: riskNames[i], n: n })),
      pointRadius: 0
    }))
  },
  options: baseOptions({
    x: xAxis(riskBox, 7.8, null, 0, 1467 - riskBox.axB),
    y: riskYAxis
  }, riskBox.top - 1411, 417 - riskBox.right),
  plugins: [riskNumbers]
});
addTextLeft('Number at risk', 116, 1413, 10.5);
addText('Cup\u2212TME score', 29, 1431, 12, { transform: 'translate(-50%,-50%) rotate(-90deg)' });
addText('Time(Months)', 245.5, 1483, 16.3);

function polyPoints(cell) {
  const pts = [];
  for (let k = 0; k < cell.length; k += 2) pts.push({ x: cell[k], y: cell[k + 1] });
  pts.push({ x: cell[0], y: cell[1] });
  return pts;
}

// proteomaps, one filled polygon per cell; datasets listed first draw on top
function drawMap(left, top, width, height, cells, colors, groups, groupColors, labels) {
  const outlines = groups.map(g => ({
    data: polyPoints(g), showLine: true, fill: false, tension: 0, pointRadius: 0,
    borderColor: '#14181c', borderWidth: 1.1
  }));
  const sets = cells.map((cell, i) => ({
    data: polyPoints(cell), showLine: true, fill: 'shape', tension: 0, pointRadius: 0,
    backgroundColor: colors[i], borderColor: 'rgba(10,30,50,0.45)', borderWidth: 0.6
  }));
  const bases = groups.map((g, i) => ({
    data: polyPoints(g), showLine: true, fill: 'shape', tension: 0, pointRadius: 0,
    backgroundColor: groupColors[i], borderWidth: 0
  }));
  new Chart(addCanvas(left, top, width, height), {
    type: 'scatter',
    data: { datasets: outlines.concat(sets, bases) },
    options: baseOptions({
      x: { type: 'linear', display: false, min: 0, max: width * 3 },
      y: { type: 'linear', display: false, min: 0, max: height * 3, reverse: true }
    }, 0, 0)
  });
  labels.forEach(l => {
    const el = addText(l[0], left + l[1] / 3, top + l[2] / 3, l[3]);
    el.classList.add('mapTxt');
    el.style.fontFamily = '"DejaVu Sans", sans-serif';
    el.style.color = '#fff';
  });
}

drawMap(850, 0, 288, 300, mapECells, mapEColors, mapEGroups, mapEGroupColors, mapELabels);
drawMap(850, 305, 288, 295, mapFCells, mapFColors, mapFGroups, mapFGroupColors, mapFLabels);
drawMap(850, 610, 288, 295, mapGCells, mapGColors, mapGGroups, mapGGroupColors, mapGLabels);
drawMap(850, 916, 288, 295, mapGCells, mapGColors, mapGGroups, mapGGroupColors, mapGLabels);
</script>
</body>
</html>
